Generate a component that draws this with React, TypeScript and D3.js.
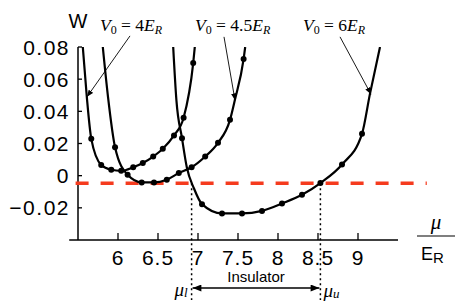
import React from 'react';
import * as d3 from 'd3';

const width = 463;
const height = 305;

// axis ticks
const xTicks = [6, 6.5, 7, 7.5, 8, 8.5, 9];
const xTickLabels = ['6', '6.5', '7', '7.5', '8', '8.5', '9'];
const yTicks = [-0.02, 0, 0.02, 0.04, 0.06, 0.08];
const yTickLabels = ['\u22120.02', '0', '0.02', '0.04', '0.06', '0.08'];

// [mu / E_R, W, has marker]
const curveV4: [number, number, number][] = [
  [5.56, 0.08, 0], [5.61, 0.049, 0], [5.666, 0.0229, 1], [5.79, 0.0067, 1],
  [5.916, 0.0037, 1], [6.04, 0.003, 1], [6.19, 0.0052, 1], [6.31, 0.0079, 1],
  [6.44, 0.0119, 1], [6.56, 0.0167, 1], [6.7, 0.025, 1], [6.82, 0.036, 1],
  [6.94, 0.07, 1], [6.96, 0.08, 0],
];
const curveV45: [number, number, number][] = [
  [5.81, 0.08, 0], [5.875, 0.049, 0], [5.963, 0.0177, 1], [6.12, 0.0005, 1],
  [6.296, -0.0042, 1], [6.45, -0.0042, 1], [6.61, -0.0025, 1], [6.76, 0.0016, 1],
  [6.92, 0.0052, 1], [7.09, 0.0119, 1], [7.25, 0.0204, 1], [7.4, 0.0347, 1],
  [7.46, 0.0469, 0], [7.57, 0.0725, 1], [7.59, 0.08, 0],
];
const curveV6: [number, number, number][] = [
  [6.69, 0.08, 0], [6.73, 0.047, 0], [6.8, 0.0233, 1], [6.86, 0.0052, 0],
  [6.95, -0.008, 0], [7.05, -0.0177, 1], [7.3, -0.0235, 1], [7.55, -0.0235, 1],
  [7.8, -0.0219, 1], [8.05, -0.0173, 1], [8.3, -0.0119, 1], [8.53, -0.0046, 1],
  [8.8, 0.0069, 1], [9.05, 0.026, 1], [9.15, 0.051, 0], [9.275, 0.08, 0],
];
const curves = [curveV4, curveV45, curveV6];

// annotations: V0 value, label left edge, arrow tail, arrow tip
const v0Values = ['4', '4.5', '6'];
const labelMu = [5.775, 6.9625, 8.3125];
const tailMu = [6.15, 7.325, 8.775];
const tailW = [0.0869, 0.0863, 0.0863];
const tipMu = [5.6125, 7.4625, 9.1625];
const tipW = [0.049, 0.0469, 0.0506];

// gap level and band edges
const gapLevel = -0.0047;
const gapFrom = 5.47;
const gapTo = 9.86;
const muLower = 6.92;
const muUpper = 8.53;

const sans = '"Liberation Sans", Arial, Helvetica, sans-serif';
const serif = '"Liberation Serif", "Times New Roman", serif';

export default function App() {
  const x = d3.scaleLinear().domain([5.5, 9.5]).range([78, 398]);
  const y = d3.scaleLinear().domain([-0.04, 0.08]).range([240, 47]);

  const line = d3
    .line<[number, number, number]>()
    .x(d => x(d[0]))
    .y(d => y(d[1]))
    .curve(d3.curveMonotoneX);

  const x0 = x(5.5);
  const yBase = y(-0.04);

  return (
    <svg
      width={width}
      height={height}
      style={{ position: 'absolute', left: 0, top: 0, background: '#fff' }}
    >
      <defs>
        <clipPath id="plot">
          <rect x={x0} y={y(0.08)} width={x(9.9) - x0} height={yBase - y(0.08)} />
        </clipPath>
        <marker id="head" viewBox="0 0 10 8" refX="10" refY="4"
          markerWidth="7" markerHeight="5.5" markerUnits="userSpaceOnUse" orient="auto">
          <path d="M0,0 L10,4 L0,8 z" fill="#000" />
        </marker>
        <marker id="head2" viewBox="0 0 10 8" refX="10" refY="4"
          markerWidth="10" markerHeight="7" markerUnits="userSpaceOnUse" orient="auto-start-reverse">
          <path d="M0,0 L10,4 L0,8 z" fill="#000" />
        </marker>
      </defs>

      {/* axes */}
      <line x1={x(5.39)} x2={x(9.5)} y1={yBase} y2={yBase} stroke="#000" strokeWidth={1.5} />
      <line x1={x0} x2={x0} y1={yBase} y2={y(0.08)} stroke="#000" strokeWidth={1.5} />
      {xTicks.map((t, i) => (
        <g key={'x' + t}>
          <line x1={x(t)} x2={x(t)} y1={yBase} y2={yBase - 7} stroke="#000" strokeWidth={1.3} />
          <text x={x(t)} y={yBase + 25} textAnchor="middle" fontFamily={sans}
            fontSize={21} letterSpacing={1}>{xTickLabels[i]}</text>
        </g>
      ))}
      {yTicks.map((t, i) => (
        <g key={'y' + t}>
          <line x1={x0} x2={x0 + 4} y1={y(t)} y2={y(t)} stroke="#000" strokeWidth={1.3} />
          <text x={x0 - 8} y={y(t)} dy="0.36em" textAnchor="end" fontFamily={sans}
            fontSize={21} letterSpacing={1.5}>{yTickLabels[i]}</text>
        </g>
      ))}
      <text x={x0} y={y(0.0919)} textAnchor="middle" fontFamily={sans} fontSize={20}>W</text>

      {/* x label mu / E_R */}
      <text x={436} y={229} textAnchor="middle" fontFamily={serif} fontStyle="italic" fontSize={21}>μ</text>
      <line x1={417} x2={455} y1={236} y2={236} stroke="#000" strokeWidth={1.2} />
      <text x={421} y={260} fontFamily={sans} fontSize={18}>
        E<tspan fontSize={15} dy={3}>R</tspan>
      </text>

      {/* gap level */}
      <line x1={x(gapFrom)} x2={x(gapTo)} y1={y(gapLevel)} y2={y(gapLevel)}
        stroke="#f53b1e" strokeWidth={3.6} strokeDasharray="13 12" />

      {/* curves */}
      <g clipPath="url(#plot)">
        {curves.map((c, i) => (
          <path key={i} d={line(c) ?? ''} fill="none" stroke="#000" strokeWidth={2.2} />
        ))}
      </g>
      {curves.map((c, i) =>
        c.filter(d => d[2]).map((d, j) => (
          <circle key={i + '-' + j} cx={x(d[0])} cy={y(d[1])} r={3} fill="#000" />
        ))
      )}

      {/* annotations */}
      {v0Values.map((v, i) => (
        <g key={'a' + v}>
          <text x={x(labelMu[i])} y={y(0.09)} fontFamily={serif} fontSize={17.5}>
            <tspan fontStyle="italic">V</tspan>
            <tspan fontSize={12} dy={3}>0</tspan>
            <tspan dy={-3}>{' = ' + v}</tspan>
            <tspan fontStyle="italic">E</tspan>
            <tspan fontStyle="italic" fontSize={12} dy={3}>R</tspan>
          </text>
          <line x1={x(tailMu[i])} y1={y(tailW[i])} x2={x(tipMu[i])} y2={y(tipW[i])}
            stroke="#000" strokeWidth={0.9} markerEnd="url(#head)" />
        </g>
      ))}

      {/* band edges */}
      {[muLower, muUpper].map(m => (
        <line key={'d' + m} x1={x(m)} x2={x(m)} y1={y(gapLevel)} y2={300}
          stroke="#000" strokeWidth={1.5} strokeDasharray="2 3" />
      ))}
      <line x1={x(muLower) + 1} x2={x(muUpper) - 1} y1={288} y2={288} stroke="#000" strokeWidth={1.3}
        markerStart="url(#head2)" markerEnd="url(#head2)" />
      <text x={(x(muLower) + x(muUpper)) / 2} y={282} textAnchor="middle" fontFamily={sans} fontSize={15}>
        Insulator
      </text>
      <text x={x(muLower) - 4} y={296} textAnchor="end" fontFamily={serif} fontStyle="italic" fontSize={19}>
        μ<tspan fontSize={13} dy={1}>l</tspan>
      </text>
      <text x={x(muUpper) + 3} y={297} fontFamily={serif} fontStyle="italic" fontSize={19}>
        μ<tspan fontSize={13} dy={1}>u</tspan>
      </text>
    </svg>
  );
}
